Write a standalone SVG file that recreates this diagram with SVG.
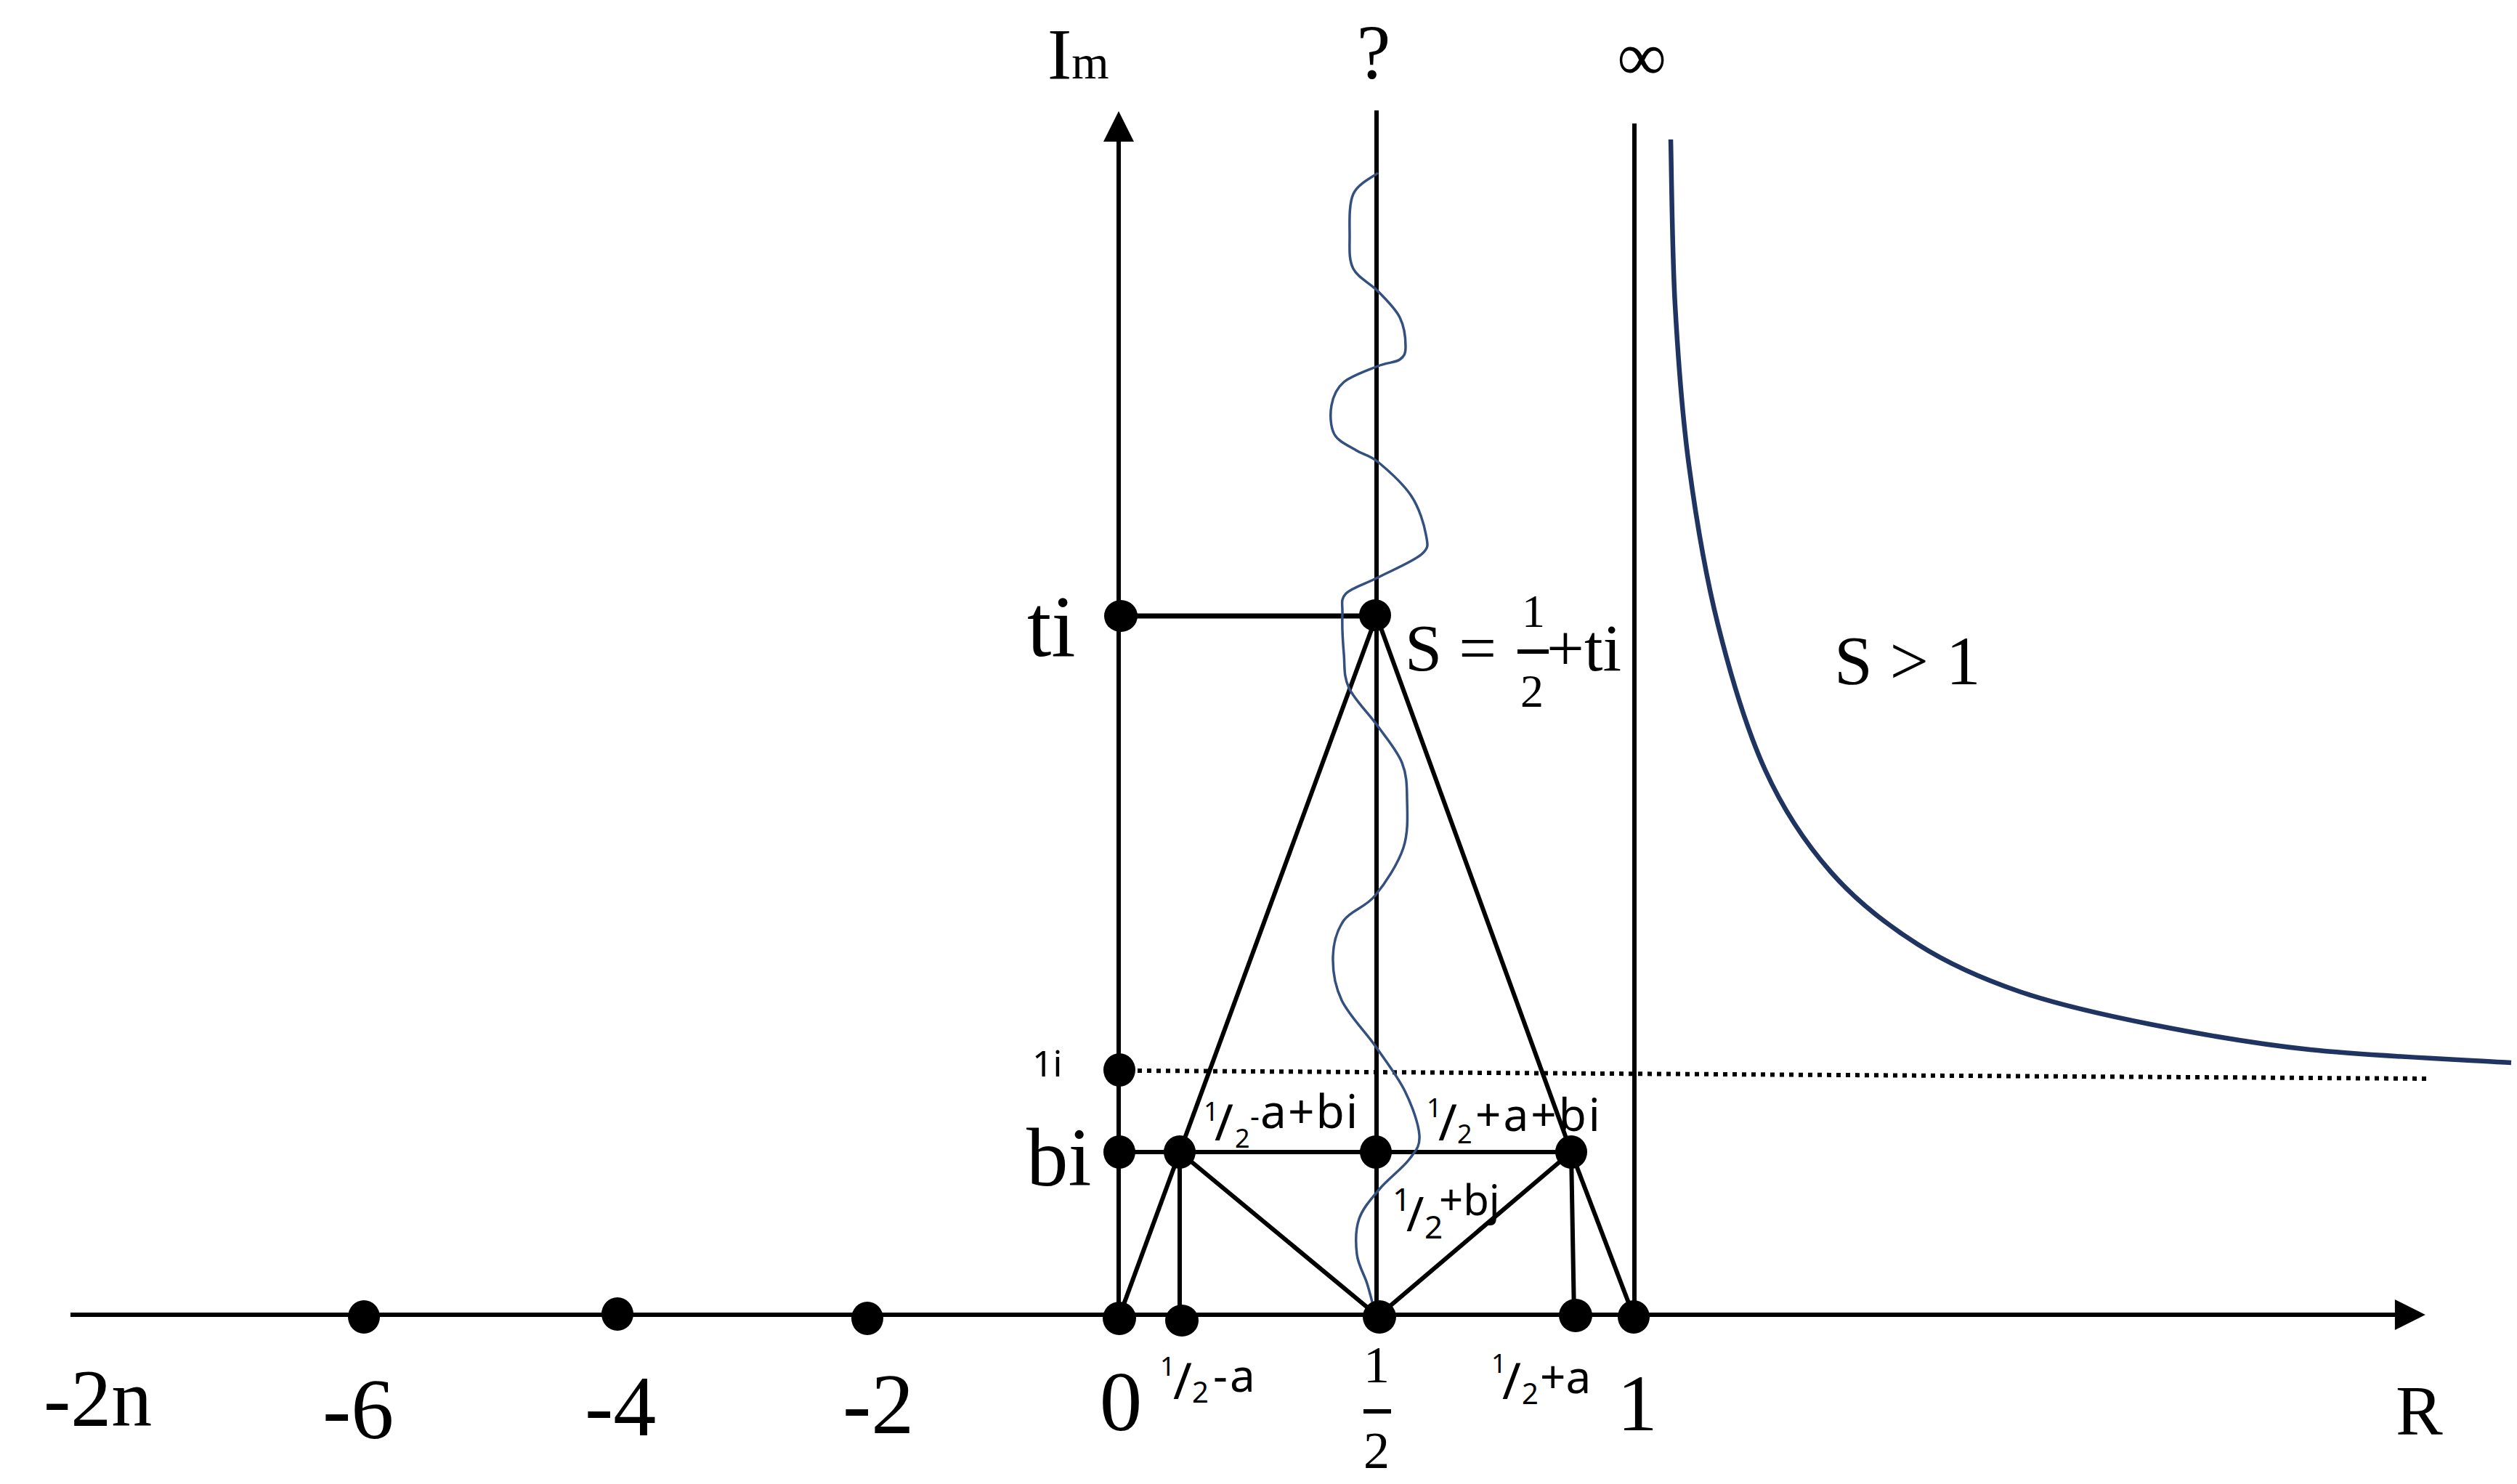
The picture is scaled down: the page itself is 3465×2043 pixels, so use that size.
<svg xmlns="http://www.w3.org/2000/svg" width="3465" height="2043" viewBox="0 0 3465 2043">
<style>
.ln{stroke:#000;stroke-width:6;fill:none;stroke-linecap:butt}
.dot{fill:#000}
.serif{font-family:"Liberation Serif","Times New Roman",serif;fill:#000}
.sans{font-family:"Noto Sans","Liberation Sans",sans-serif;fill:#000}
.wave{fill:none;stroke:#34507e;stroke-width:3.5}
.hyp{fill:none;stroke:#1f3461;stroke-width:6.5}
</style>
<defs>
<marker id="arrow" viewBox="0 0 10 10" refX="5.5" refY="5" markerWidth="44" markerHeight="42" markerUnits="userSpaceOnUse" orient="auto">
<path d="M0,0 L10,5 L0,10 z" fill="#000"/>
</marker>
</defs>
<rect width="3465" height="2043" fill="#fff"/>

<g id="axes">
<line class="ln" x1="97" y1="1810" x2="3320" y2="1810" marker-end="url(#arrow)"/>
<line class="ln" x1="1540" y1="1815" x2="1540" y2="172" marker-end="url(#arrow)"/>
<line class="ln" x1="1895" y1="152" x2="1895" y2="1812"/>
<line class="ln" x1="2250" y1="170" x2="2250" y2="1812"/>
<text class="serif" x="1442" y="108" font-size="100">I<tspan font-size="66">m</tspan></text>
<text class="serif" x="1891" y="108" font-size="105" text-anchor="middle">?</text>
<text class="serif" x="2260" y="110" font-size="95" text-anchor="middle">∞</text>
<text class="serif" x="3298" y="1975" font-size="97">R</text>
</g>

<g id="connectors">
<line class="ln" x1="1540" y1="848" x2="1895" y2="848" style="stroke-width:7"/>
<line class="ln" x1="1895" y1="848" x2="1624" y2="1586"/>
<line class="ln" x1="1895" y1="848" x2="2163" y2="1586"/>
<line class="ln" x1="1624" y1="1586" x2="1541" y2="1812"/>
<line class="ln" x1="2163" y1="1586" x2="2249" y2="1812"/>
<line class="ln" x1="1540" y1="1586" x2="2163" y2="1586"/>
<line class="ln" x1="1624" y1="1586" x2="1624" y2="1816"/>
<line class="ln" x1="2163" y1="1586" x2="2167" y2="1812"/>
<line class="ln" x1="1624" y1="1586" x2="1897" y2="1812"/>
<line class="ln" x1="2163" y1="1586" x2="1897" y2="1812"/>
<line x1="1566" y1="1474" x2="3343" y2="1485" stroke="#000" stroke-width="6" stroke-dasharray="6 7"/>
</g>

<g id="curves">
<path id="zeta-wave" class="wave" d="M1897,238 C1891.3,242.8 1869.5,252.5 1863,267 C1856.5,281.5 1858,307.8 1858,325 C1858,342.2 1856.5,357.3 1863,370 C1869.5,382.7 1886.3,389.8 1897,401 C1907.7,412.2 1920.7,424.3 1927,437 C1933.3,449.7 1935,467.3 1935,477 C1935,486.7 1933.3,490.5 1927,495 C1920.7,499.5 1909.8,498.8 1897,504 C1884.2,509.2 1860.7,517 1850,526 C1839.3,535 1835.2,546 1833,558 C1830.8,570 1831.3,587.7 1837,598 C1842.7,608.3 1857,613.7 1867,620 C1877,626.3 1884.3,625.5 1897,636 C1909.7,646.5 1932,666.3 1943,683 C1954,699.7 1960.7,722.7 1963,736 C1965.3,749.3 1968,753.2 1957,763 C1946,772.8 1914.3,786 1897,795 C1879.7,804 1861.2,808.7 1853,817 C1844.8,825.3 1848.5,831.2 1848,845 C1847.5,858.8 1848.5,883 1850,900 C1851.5,917 1849.2,930.3 1857,947 C1864.8,963.7 1884.8,982.8 1897,1000 C1909.2,1017.2 1923.3,1033.3 1930,1050 C1936.7,1066.7 1936.7,1080.5 1937,1100 C1937.3,1119.5 1939.3,1144.8 1932,1167 C1924.7,1189.2 1906.7,1216.3 1893,1233 C1879.3,1249.7 1859.7,1253 1850,1267 C1840.3,1281 1835.5,1298.7 1835,1317 C1834.5,1335.3 1837.2,1356.3 1847,1377 C1856.8,1397.7 1879.5,1420.2 1894,1441 C1908.5,1461.8 1924,1481.7 1934,1502 C1944,1522.3 1953,1547.3 1954,1563 C1955,1578.7 1949.2,1583.7 1940,1596 C1930.8,1608.3 1910.5,1623.3 1899,1637 C1887.5,1650.7 1876.2,1663 1871,1678 C1865.8,1693 1866.2,1712.2 1868,1727 C1869.8,1741.8 1878.2,1754.8 1882,1767 C1885.8,1779.2 1889.5,1794.5 1891,1800"/>
<path id="hyperbola" class="hyp" d="M2300,192 C2301,230 2301.8,345.3 2306,420 C2310.2,494.7 2315.2,566.7 2325,640 C2334.8,713.3 2347.5,790 2365,860 C2382.5,930 2404.2,1003.3 2430,1060 C2455.8,1116.7 2485,1160 2520,1200 C2555,1240 2596.7,1272.5 2640,1300 C2683.3,1327.5 2726.7,1346.7 2780,1365 C2833.3,1383.3 2893.3,1396.7 2960,1410 C3026.7,1423.3 3097.2,1436.2 3180,1445 C3262.8,1453.8 3410.8,1460 3457,1463"/>
<text class="serif" x="2525" y="942" font-size="95">S &gt; 1</text>
</g>

<g id="node-ti">
<ellipse class="dot" cx="1543" cy="848" rx="23" ry="22"/>
<text class="serif" x="1414" y="903" font-size="120">ti</text>
</g>
<g id="node-s">
<ellipse class="dot" cx="1893" cy="847" rx="22" ry="22"/>
<text class="serif" x="1934" y="923" font-size="92">S =</text>
<text class="serif" x="2095" y="863" font-size="64">1</text>
<rect x="2089" y="894" width="43" height="6" fill="#000"/>
<text class="serif" x="2093" y="973" font-size="64">2</text>
<text class="serif" x="2129" y="923" font-size="92">+ti</text>
</g>
<g id="node-1i">
<ellipse class="dot" cx="1541" cy="1473" rx="22" ry="23"/>
<text class="sans" x="1421" y="1482" font-size="50">1i</text>
</g>
<g id="node-bi">
<ellipse class="dot" cx="1541" cy="1586" rx="22" ry="23"/>
<text class="serif" x="1413" y="1632" font-size="115">bi</text>
</g>
<g id="node-half-minus-a-bi">
<ellipse class="dot" cx="1624" cy="1586" rx="22" ry="23"/>
<text class="sans" x="1657" y="1543" font-size="36">1<tspan x="1672" y="1570" font-size="70">/</tspan><tspan x="1700" y="1580">2</tspan><tspan x="1721" y="1551" font-size="40">-</tspan><tspan x="1735" y="1553" font-size="64" letter-spacing="2">a+bi</tspan></text>
</g>
<g id="node-half-bi">
<ellipse class="dot" cx="1894" cy="1586" rx="22" ry="23"/>
<text class="sans" x="1917" y="1667" font-size="44">1<tspan x="1936" y="1695" font-size="66">/</tspan><tspan x="1961" y="1705">2</tspan><tspan x="1981" y="1673" font-size="58">+bj</tspan></text>
</g>
<g id="node-half-plus-a-bi">
<ellipse class="dot" cx="2163" cy="1586" rx="22" ry="23"/>
<text class="sans" x="1964" y="1538" font-size="36">1<tspan x="1980" y="1570" font-size="70">/</tspan><tspan x="2006" y="1574">2</tspan><tspan x="2031" y="1557" font-size="62" letter-spacing="3">+a+bi</tspan></text>
</g>

<g id="node-m2n">
<text class="serif" x="60" y="1963" font-size="112">-2n</text>
</g>
<g id="node-m6">
<ellipse class="dot" cx="501" cy="1813" rx="22" ry="23"/>
<text class="serif" x="444" y="1980" font-size="118">-6</text>
</g>
<g id="node-m4">
<ellipse class="dot" cx="850" cy="1809" rx="22" ry="23"/>
<text class="serif" x="805" y="1976" font-size="118">-4</text>
</g>
<g id="node-m2">
<ellipse class="dot" cx="1194" cy="1815" rx="22" ry="23"/>
<text class="serif" x="1160" y="1973" font-size="118">-2</text>
</g>
<g id="node-0">
<ellipse class="dot" cx="1541" cy="1815" rx="23" ry="23"/>
<text class="serif" x="1543" y="1969" font-size="117" text-anchor="middle">0</text>
</g>
<g id="node-half-minus-a">
<ellipse class="dot" cx="1627" cy="1818" rx="23" ry="22"/>
<text class="sans" x="1597" y="1894" font-size="36">1<tspan x="1615" y="1926" font-size="70">/</tspan><tspan x="1641" y="1931" font-size="40">2</tspan><tspan x="1670" y="1916" font-size="62" letter-spacing="3">-a</tspan></text>
</g>
<g id="node-half">
<ellipse class="dot" cx="1899" cy="1813" rx="23" ry="23"/>
<text class="serif" x="1895" y="1903" font-size="72" text-anchor="middle">1</text>
<rect x="1877" y="1940" width="38" height="6" fill="#000"/>
<text class="serif" x="1895" y="2021" font-size="72" text-anchor="middle">2</text>
</g>
<g id="node-half-plus-a">
<ellipse class="dot" cx="2169" cy="1811" rx="23" ry="23"/>
<text class="sans" x="2053" y="1890" font-size="36">1<tspan x="2068" y="1926" font-size="70">/</tspan><tspan x="2095" y="1933" font-size="40">2</tspan><tspan x="2120" y="1918" font-size="62">+a</tspan></text>
</g>
<g id="node-1">
<ellipse class="dot" cx="2249" cy="1813" rx="22" ry="23"/>
<text class="serif" x="2254" y="1969" font-size="111" text-anchor="middle">1</text>
</g>
</svg>
